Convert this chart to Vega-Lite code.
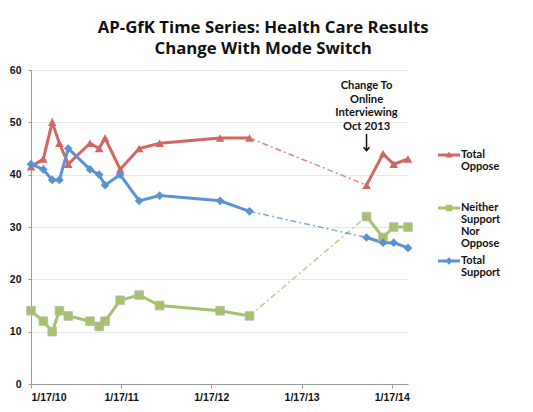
{
  "$schema": "https://vega.github.io/schema/vega-lite/v6.json",
  "width": 377,
  "height": 314,
  "autosize": {"type": "none"},
  "padding": {"left": 31, "top": 70, "right": 125, "bottom": 28},
  "background": "white",
  "title": {
    "text": ["AP-GfK Time Series: Health Care Results", "Change With Mode Switch"],
    "font": "Open Sans",
    "fontSize": 16.8,
    "fontWeight": "bold",
    "color": "#111111",
    "lineHeight": 21,
    "anchor": "middle",
    "frame": "bounds",
    "offset": 7,
    "dx": 8
  },
  "config": {
    "view": {"stroke": null},
    "axis": {
      "labelFont": "Liberation Sans",
      "labelFontSize": 10.5,
      "labelFontWeight": "bold",
      "labelColor": "#111111",
      "domainColor": "#9a9a9a",
      "tickColor": "#9a9a9a",
      "gridColor": "#e8e8e8",
      "tickSize": 4,
      "title": null
    }
  },
  "datasets": {
    "poll": [
      {"date": "2010/01/17", "series": "Total Oppose", "value": 41.5, "mode": "phone"},
      {"date": "2010/03/08", "series": "Total Oppose", "value": 43, "mode": "phone"},
      {"date": "2010/04/13", "series": "Total Oppose", "value": 50, "mode": "phone"},
      {"date": "2010/05/12", "series": "Total Oppose", "value": 46, "mode": "phone"},
      {"date": "2010/06/17", "series": "Total Oppose", "value": 42, "mode": "phone"},
      {"date": "2010/09/13", "series": "Total Oppose", "value": 46, "mode": "phone"},
      {"date": "2010/10/20", "series": "Total Oppose", "value": 45, "mode": "phone"},
      {"date": "2010/11/13", "series": "Total Oppose", "value": 47, "mode": "phone"},
      {"date": "2011/01/13", "series": "Total Oppose", "value": 41, "mode": "phone"},
      {"date": "2011/03/31", "series": "Total Oppose", "value": 45, "mode": "phone"},
      {"date": "2011/06/22", "series": "Total Oppose", "value": 46, "mode": "phone"},
      {"date": "2012/02/22", "series": "Total Oppose", "value": 47, "mode": "phone"},
      {"date": "2012/06/20", "series": "Total Oppose", "value": 47, "mode": "phone"},
      {"date": "2013/10/07", "series": "Total Oppose", "value": 38, "mode": "online"},
      {"date": "2013/12/13", "series": "Total Oppose", "value": 44, "mode": "online"},
      {"date": "2014/01/25", "series": "Total Oppose", "value": 42, "mode": "online"},
      {"date": "2014/03/24", "series": "Total Oppose", "value": 43, "mode": "online"},
      {"date": "2010/01/17", "series": "Neither Support Nor Oppose", "value": 14, "mode": "phone"},
      {"date": "2010/03/08", "series": "Neither Support Nor Oppose", "value": 12, "mode": "phone"},
      {"date": "2010/04/13", "series": "Neither Support Nor Oppose", "value": 10, "mode": "phone"},
      {"date": "2010/05/12", "series": "Neither Support Nor Oppose", "value": 14, "mode": "phone"},
      {"date": "2010/06/17", "series": "Neither Support Nor Oppose", "value": 13, "mode": "phone"},
      {"date": "2010/09/13", "series": "Neither Support Nor Oppose", "value": 12, "mode": "phone"},
      {"date": "2010/10/20", "series": "Neither Support Nor Oppose", "value": 11, "mode": "phone"},
      {"date": "2010/11/13", "series": "Neither Support Nor Oppose", "value": 12, "mode": "phone"},
      {"date": "2011/01/13", "series": "Neither Support Nor Oppose", "value": 16, "mode": "phone"},
      {"date": "2011/03/31", "series": "Neither Support Nor Oppose", "value": 17, "mode": "phone"},
      {"date": "2011/06/22", "series": "Neither Support Nor Oppose", "value": 15, "mode": "phone"},
      {"date": "2012/02/22", "series": "Neither Support Nor Oppose", "value": 14, "mode": "phone"},
      {"date": "2012/06/20", "series": "Neither Support Nor Oppose", "value": 13, "mode": "phone"},
      {"date": "2013/10/07", "series": "Neither Support Nor Oppose", "value": 32, "mode": "online"},
      {"date": "2013/12/13", "series": "Neither Support Nor Oppose", "value": 28, "mode": "online"},
      {"date": "2014/01/25", "series": "Neither Support Nor Oppose", "value": 30, "mode": "online"},
      {"date": "2014/03/24", "series": "Neither Support Nor Oppose", "value": 30, "mode": "online"},
      {"date": "2010/01/17", "series": "Total Support", "value": 42, "mode": "phone"},
      {"date": "2010/03/08", "series": "Total Support", "value": 41, "mode": "phone"},
      {"date": "2010/04/13", "series": "Total Support", "value": 39, "mode": "phone"},
      {"date": "2010/05/12", "series": "Total Support", "value": 39, "mode": "phone"},
      {"date": "2010/06/17", "series": "Total Support", "value": 45, "mode": "phone"},
      {"date": "2010/09/13", "series": "Total Support", "value": 41, "mode": "phone"},
      {"date": "2010/10/20", "series": "Total Support", "value": 40, "mode": "phone"},
      {"date": "2010/11/13", "series": "Total Support", "value": 38, "mode": "phone"},
      {"date": "2011/01/13", "series": "Total Support", "value": 40, "mode": "phone"},
      {"date": "2011/03/31", "series": "Total Support", "value": 35, "mode": "phone"},
      {"date": "2011/06/22", "series": "Total Support", "value": 36, "mode": "phone"},
      {"date": "2012/02/22", "series": "Total Support", "value": 35, "mode": "phone"},
      {"date": "2012/06/20", "series": "Total Support", "value": 33, "mode": "phone"},
      {"date": "2013/10/07", "series": "Total Support", "value": 28, "mode": "online"},
      {"date": "2013/12/13", "series": "Total Support", "value": 27, "mode": "online"},
      {"date": "2014/01/25", "series": "Total Support", "value": 27, "mode": "online"},
      {"date": "2014/03/24", "series": "Total Support", "value": 26, "mode": "online"}
    ],
    "note": [
      {"date": "2013/10/07", "label": "Change To\nOnline\nInterviewing\nOct 2013", "top": 58.1, "from": 47.8, "to": 44.6}
    ]
  },
  "layer": [
    {
      "data": {"name": "poll"},
      "mark": {"type": "line", "strokeWidth": 3},
      "encoding": {
        "x": {
          "field": "date", "type": "temporal",
          "scale": {"domain": [{"year": 2010, "month": 1, "date": 17}, {"year": 2014, "month": 3, "date": 24}]},
          "axis": {
            "values": [
              {"year": 2010, "month": 1, "date": 17},
              {"year": 2011, "month": 1, "date": 17},
              {"year": 2012, "month": 1, "date": 17},
              {"year": 2013, "month": 1, "date": 17},
              {"year": 2014, "month": 1, "date": 17}
            ],
            "format": "%-m/%-d/%y",
            "grid": false,
            "labelPadding": 4
          }
        },
        "y": {
          "field": "value", "type": "quantitative",
          "scale": {"domain": [0, 60]},
          "axis": {"values": [0, 10, 20, 30, 40, 50, 60], "grid": true, "tickSize": 3, "labelPadding": 7}
        },
        "color": {
          "field": "series", "type": "nominal",
          "scale": {"domain": ["Total Oppose", "Neither Support Nor Oppose", "Total Support"], "range": ["#d16662", "#a5c26b", "#5a93d1"]},
          "legend": {
            "orient": "none",
            "legendX": 407,
            "legendY": 74,
            "title": null,
            "padding": 0,
            "rowPadding": 1,
            "symbolSize": 484,
            "labelFont": "Lato",
            "labelFontSize": 11,
            "labelFontWeight": "bold",
            "labelColor": "#111111",
            "labelOffset": 1,
            "labelBaseline": "top",
            "labelExpr": "datum.label == 'Neither Support Nor Oppose' ? ['Neither', 'Support', 'Nor', 'Oppose'] : split(datum.label + '  ', ' ')",
            "encode": {
              "symbols": {
                "update": {
                  "shape": {"signal": "datum.value == 'Total Oppose' ? 'M-1,-0.13L1,-0.13L1,0.13L-1,0.13Z M-0.3,0.22L0,-0.32L0.3,0.22Z' : datum.value == 'Total Support' ? 'M-1,-0.13L1,-0.13L1,0.13L-1,0.13Z M0,-0.34L0.34,0L0,0.34L-0.34,0Z' : 'M-1,-0.13L1,-0.13L1,0.13L-1,0.13Z M-0.3,-0.3L0.3,-0.3L0.3,0.3L-0.3,0.3Z'"},
                  "fill": {"signal": "scale('color', datum.value)"},
                  "stroke": {"value": null},
                  "strokeWidth": {"value": 0},
                  "opacity": {"value": 1}
                }
              },
              "labels": {
                "update": {"dy": {"value": -6}, "lineHeight": {"value": 12}}
              }
            }
          }
        },
        "detail": {"field": "mode"}
      }
    },
    {
      "data": {"name": "poll"},
      "transform": [{"filter": "(year(datum.date) == 2012 && month(datum.date) == 5) || (year(datum.date) == 2013 && month(datum.date) == 9)"}],
      "mark": {"type": "line", "strokeWidth": 1.5, "strokeDash": [6, 3, 2, 3], "opacity": 0.8},
      "encoding": {
        "x": {"field": "date", "type": "temporal"},
        "y": {"field": "value", "type": "quantitative"},
        "color": {"field": "series", "type": "nominal"}
      }
    },
    {
      "data": {"name": "poll"},
      "transform": [{"filter": "datum.series == 'Neither Support Nor Oppose'"}],
      "mark": {"type": "point", "shape": "square", "filled": true, "opacity": 1, "size": 75, "stroke": "#b8b8b8", "strokeWidth": 0.8},
      "encoding": {
        "x": {"field": "date", "type": "temporal"},
        "y": {"field": "value", "type": "quantitative"},
        "fill": {"field": "series", "type": "nominal", "scale": {"domain": ["Total Oppose", "Neither Support Nor Oppose", "Total Support"], "range": ["#d16662", "#a5c26b", "#5a93d1"]}, "legend": null}
      }
    },
    {
      "data": {"name": "poll"},
      "transform": [{"filter": "datum.series == 'Total Oppose'"}],
      "mark": {"type": "point", "shape": "triangle-up", "filled": true, "opacity": 1, "size": 75},
      "encoding": {
        "x": {"field": "date", "type": "temporal"},
        "y": {"field": "value", "type": "quantitative"},
        "color": {"field": "series", "type": "nominal"}
      }
    },
    {
      "data": {"name": "poll"},
      "transform": [{"filter": "datum.series == 'Total Support'"}],
      "mark": {"type": "point", "shape": "diamond", "filled": true, "opacity": 1, "size": 75},
      "encoding": {
        "x": {"field": "date", "type": "temporal"},
        "y": {"field": "value", "type": "quantitative"},
        "color": {"field": "series", "type": "nominal"}
      }
    },
    {
      "data": {"name": "note"},
      "mark": {"type": "text", "font": "Lato", "fontSize": 11.2, "fontWeight": "bold", "lineHeight": 13.6, "baseline": "top", "align": "center", "lineBreak": "\n", "color": "#111111"},
      "encoding": {
        "x": {"field": "date", "type": "temporal"},
        "y": {"field": "top", "type": "quantitative"},
        "text": {"field": "label"}
      }
    },
    {
      "data": {"name": "note"},
      "mark": {"type": "rule", "strokeWidth": 1.5, "color": "#111111"},
      "encoding": {
        "x": {"field": "date", "type": "temporal"},
        "y": {"field": "from", "type": "quantitative"},
        "y2": {"field": "to"}
      }
    },
    {
      "data": {"name": "note"},
      "mark": {"type": "point", "shape": "M-1,-1.1L0,0L1,-1.1", "filled": false, "strokeWidth": 1.6, "size": 36, "color": "#111111", "opacity": 1},
      "encoding": {
        "x": {"field": "date", "type": "temporal"},
        "y": {"field": "to", "type": "quantitative"}
      }
    }
  ]
}
